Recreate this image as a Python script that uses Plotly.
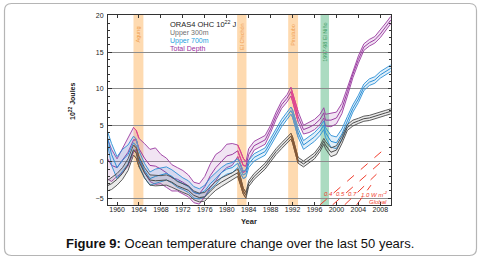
import plotly.graph_objects as go

# ---------------- data ----------------
years = [1958.2, 1959, 1960, 1961, 1962, 1963, 1963.5, 1964, 1965, 1966,
         1967, 1968, 1969, 1970, 1971, 1972, 1973, 1974, 1975, 1976,
         1977, 1978, 1979, 1980, 1981, 1982, 1982.5, 1983, 1983.5, 1984,
         1985, 1986, 1987, 1988, 1989, 1990, 1991, 1991.7, 1992, 1993,
         1994, 1995, 1996, 1997, 1997.7, 1998, 1999, 2000, 2001, 2002,
         2003, 2004, 2005, 2006, 2007, 2008, 2009, 2009.9]

total_mid = [0.5, -0.5, -0.8, 0.2, 1.3, 3.0, 3.0, 1.8, 0.5, -0.5,
             -0.6, -1.0, -1.5, -2.2, -2.4, -2.8, -3.3, -4.2, -4.4, -3.4,
             -1.9, -0.8, 0.0, 0.8, 1.0, 1.5, 0.5, -0.5, -0.6, 1.0,
             2.2, 2.6, 3.0, 4.5, 6.3, 7.8, 8.7, 9.6, 8.9, 6.2,
             4.4, 4.7, 5.1, 5.8, 6.7, 5.7, 5.7, 6.0, 7.3, 9.6,
             12.0, 14.0, 15.7, 16.3, 16.7, 17.5, 18.5, 19.4]
total_spread = [2.8, 2.2, 1.2, 1.7, 1.9, 1.7, 1.3, 1.4, 2.0, 2.2,
                2.5, 2.0, 2.0, 1.8, 1.6, 1.6, 1.5, 1.4, 1.4, 1.4,
                1.6, 1.8, 1.5, 1.6, 1.5, 0.8, 1.0, 1.0, 0.6, 0.8,
                0.6, 0.6, 0.6, 0.5, 0.5, 0.5, 0.5, 0.6, 0.6, 0.7,
                0.6, 0.7, 0.7, 0.7, 0.7, 0.8, 0.9, 0.8, 0.7, 0.6,
                0.5, 0.5, 0.45, 0.45, 0.45, 0.5, 0.5, 0.5]

u700_mid = [3.5, 1.0, -0.8, 0.2, 1.0, 2.6, 2.2, 0.5, -1.2, -2.3,
            -2.0, -1.8, -1.6, -2.0, -2.6, -3.0, -3.4, -4.2, -4.4, -4.0,
            -3.0, -2.3, -1.5, -1.0, -0.8, -0.2, -0.9, -1.8, -1.6, -0.3,
            0.6, 1.0, 1.4, 2.7, 4.0, 5.3, 6.3, 7.0, 6.6, 4.0,
            2.3, 2.8, 3.4, 4.2, 5.0, 4.0, 2.8, 2.6, 3.8, 5.6,
            7.3, 8.6, 10.2, 10.9, 11.2, 11.9, 12.4, 12.8]
u700_spread = [0.8, 1.5, 1.5, 1.5, 1.3, 0.9, 0.9, 1.0, 1.0, 0.9,
               1.0, 0.9, 0.9, 0.9, 0.9, 0.8, 0.8, 0.8, 0.7, 0.8,
               0.8, 0.8, 0.7, 0.7, 0.7, 0.6, 0.6, 0.5, 0.5, 0.5,
               0.5, 0.5, 0.5, 0.5, 0.5, 0.5, 0.5, 0.5, 0.5, 0.6,
               0.6, 0.6, 0.6, 0.6, 0.6, 0.7, 0.8, 0.8, 0.7, 0.6,
               0.5, 0.5, 0.45, 0.45, 0.45, 0.45, 0.45, 0.45]

u300_mid = [-3.3, -3.0, -2.4, -1.6, -0.4, 1.6, 1.2, 0.0, -1.5, -2.5,
            -2.6, -2.6, -2.5, -2.8, -3.3, -3.6, -3.9, -4.6, -4.9, -4.8,
            -4.0, -3.3, -2.8, -2.4, -2.0, -1.5, -2.6, -4.0, -4.6, -3.0,
            -2.0, -1.3, -0.6, 0.4, 1.4, 2.2, 3.0, 3.5, 3.0, 0.2,
            -0.3, 0.3, 0.8, 1.8, 2.8, 2.3, 1.3, 1.6, 3.0, 4.7,
            5.3, 5.6, 5.9, 6.0, 6.2, 6.4, 6.7, 6.9]
u300_spread = [0.7, 0.8, 0.8, 0.8, 0.8, 0.7, 0.7, 0.7, 0.7, 0.7,
               0.7, 0.7, 0.7, 0.7, 0.6, 0.6, 0.6, 0.6, 0.6, 0.6,
               0.6, 0.6, 0.6, 0.5, 0.5, 0.5, 0.5, 0.4, 0.4, 0.4,
               0.4, 0.4, 0.4, 0.4, 0.4, 0.4, 0.4, 0.4, 0.4, 0.4,
               0.4, 0.4, 0.4, 0.4, 0.4, 0.5, 0.6, 0.6, 0.5, 0.4,
               0.4, 0.35, 0.35, 0.35, 0.35, 0.35, 0.35, 0.35]

event_names = ["Agung", "El Chichón", "Pinatubo", "1997-98 El Niño"]
event_start = [1963.0, 1981.9, 1991.2, 1997.1]
event_end = [1964.8, 1983.6, 1993.0, 1998.65]
event_label_y = [17.5, 17.2, 17.4, 16.4]

highlight_periods = [(1963.0, 1964.0), (1982.0, 1983.5), (1991.7, 1993.0)]

fan_start_x = [1997.0, 1999.3, 2001.5, 2003.7]
fan_start_y = [-5.9, -5.9, -5.9, -5.9]
fan_end_x = [2009.3, 2008.2, 2007.3, 2006.3]
fan_end_y = [2.1, 0.0, -1.7, -3.2]
fan_labels = ["0.4", "0.5", "0.7", "1.0 W m<sup>-2</sup>"]
fan_label_x = [1998.6, 2000.7, 2002.9, 2007.0]
fan_label_y = [-4.4, -4.4, -4.4, -4.4]

x_tick_vals = list(range(1960, 2009, 4))
y_tick_vals = [-5, 0, 5, 10, 15, 20]

# ---------------- layout geometry ----------------
W, H = 481, 259
ML, MR, MT, MB = 108, 90, 15, 54
PW, PH = W - ML - MR, H - MT - MB
FONT = "Liberation Sans, Arial, sans-serif"


def px(xp):
    return (xp - ML) / PW


def py(yp):
    return (H - MB - yp) / PH


fig = go.Figure()


def add_group(mid, spread, line_color, fill_color, hl_color):
    hi = [m + s for m, s in zip(mid, spread)]
    lo = [m - s for m, s in zip(mid, spread)]
    fig.add_trace(go.Scatter(x=years, y=hi, mode="lines", line=dict(width=0),
                             showlegend=False, hoverinfo="skip"))
    fig.add_trace(go.Scatter(x=years, y=lo, mode="lines", line=dict(width=0),
                             fill="tonexty", fillcolor=fill_color,
                             showlegend=False, hoverinfo="skip"))
    for arr, w in ((hi, 0.9), (lo, 0.9), (mid, 1.0)):
        fig.add_trace(go.Scatter(x=years, y=arr, mode="lines",
                                 line=dict(color=line_color, width=w),
                                 showlegend=False))
    for (a, b) in highlight_periods:
        idx = [i for i, t in enumerate(years) if a <= t <= b]
        xs = [years[i] for i in idx]
        for arr in (hi, lo, mid):
            fig.add_trace(go.Scatter(x=xs, y=[arr[i] for i in idx], mode="lines",
                                     line=dict(color=hl_color, width=1.0),
                                     showlegend=False))


add_group(total_mid, total_spread, "#9a3aa0", "rgba(170,90,180,0.16)", "#ec3f8a")
add_group(u700_mid, u700_spread, "#2a8fd6", "rgba(40,140,215,0.14)", "#6f98c0")
add_group(u300_mid, u300_spread, "#4a4a4a", "rgba(80,80,80,0.12)", "#8a5a34")

# red dashed reference lines
for x0, y0, x1, y1 in zip(fan_start_x, fan_start_y, fan_end_x, fan_end_y):
    fig.add_trace(go.Scatter(x=[x0, x1], y=[y0, y1], mode="lines",
                             line=dict(color="#f03c2c", width=1, dash="dash"),
                             showlegend=False))

shapes = []
for i, (a, b) in enumerate(zip(event_start, event_end)):
    col = "rgba(126,200,160,0.65)" if i == 3 else "rgba(253,205,150,0.75)"
    shapes.append(dict(type="rect", xref="x", yref="paper", x0=a, x1=b, y0=0, y1=1,
                       fillcolor=col, line=dict(width=0), layer="below"))

# rounded outer border
x0b, x1b, y0b, y1b, r = 4.5, 476.5, 3.5, 255.5, 7
path = (f"M {px(x0b + r)} {py(y0b)} L {px(x1b - r)} {py(y0b)} "
        f"Q {px(x1b)} {py(y0b)} {px(x1b)} {py(y0b + r)} "
        f"L {px(x1b)} {py(y1b - r)} Q {px(x1b)} {py(y1b)} {px(x1b - r)} {py(y1b)} "
        f"L {px(x0b + r)} {py(y1b)} Q {px(x0b)} {py(y1b)} {px(x0b)} {py(y1b - r)} "
        f"L {px(x0b)} {py(y0b + r)} Q {px(x0b)} {py(y0b)} {px(x0b + r)} {py(y0b)} Z")
shapes.append(dict(type="path", xref="paper", yref="paper", path=path,
                   line=dict(color="#b5b5b5", width=1.2), layer="above"))

ann = []
for i, name in enumerate(event_names):
    col = "#3a9a60" if i == 3 else "#f0a050"
    ann.append(dict(x=(event_start[i] + event_end[i]) / 2, y=event_label_y[i],
                    xref="x", yref="y", text=name, textangle=-90, showarrow=False,
                    xanchor="center", yanchor="middle",
                    font=dict(family=FONT, size=5.5, color=col)))

ann.append(dict(x=1969.3, y=18.9, xref="x", yref="y", xanchor="left", yanchor="middle",
                text="ORAS4 OHC 10<sup>22</sup> J", showarrow=False,
                font=dict(family=FONT, size=7.5, color="#222")))
legend_items = [("Upper 300m", "#707070", 17.6), ("Upper 700m", "#1e9fe0", 16.5),
                ("Total Depth", "#9b30a0", 15.5)]
for txt, col, yy in legend_items:
    ann.append(dict(x=1969.3, y=yy, xref="x", yref="y", xanchor="left", yanchor="middle",
                    text=txt, showarrow=False, font=dict(family=FONT, size=7, color=col)))

for lab, lx, ly in zip(fan_labels, fan_label_x, fan_label_y):
    ann.append(dict(x=lx, y=ly, xref="x", yref="y", text=f"<i>{lab}</i>",
                    xanchor="center", yanchor="middle",
                    showarrow=False, font=dict(family=FONT, size=6, color="#f03c2c")))
ann.append(dict(x=2007.6, y=-5.45, xref="x", yref="y", text="<i>Global</i>",
                xanchor="center", yanchor="middle",
                showarrow=False, font=dict(family=FONT, size=6, color="#f03c2c")))

ann.append(dict(x=px(72), y=py(102), xref="paper", yref="paper",
                xanchor="center", yanchor="middle",
                text="<b>10<sup>22</sup> Joules</b>", textangle=-90, showarrow=False,
                font=dict(family=FONT, size=7, color="#222")))
ann.append(dict(x=px(249), y=py(221), xref="paper", yref="paper", text="<b>Year</b>",
                xanchor="center", yanchor="middle",
                showarrow=False, font=dict(family=FONT, size=7.5, color="#222")))
ann.append(dict(x=px(240), y=py(243), xref="paper", yref="paper",
                xanchor="center", yanchor="middle",
                text="<b>Figure 9:</b> Ocean temperature change over the last 50 years.",
                showarrow=False, font=dict(family=FONT, size=13, color="#111")))

fig.update_layout(
    width=W, height=H, margin=dict(l=ML, r=MR, t=MT, b=MB),
    paper_bgcolor="white", plot_bgcolor="white",
    shapes=shapes, annotations=ann, showlegend=False,
    xaxis=dict(range=[1958.35, 2009.95], tickmode="array", tickvals=x_tick_vals,
               ticks="inside", ticklen=3, tickcolor="#333", showline=True,
               linecolor="#333", linewidth=1, mirror="allticks", showgrid=False,
               zeroline=False, ticklabelstandoff=-2,
               tickfont=dict(family=FONT, size=7, color="#222")),
    yaxis=dict(range=[-5.92, 20.1], tickmode="array", tickvals=y_tick_vals,
               ticks="inside", ticklen=3.5, tickcolor="#333", showline=True,
               linecolor="#333", linewidth=1, mirror="allticks", showgrid=True,
               gridcolor="#8c8c8c", gridwidth=0.9, zeroline=False,
               ticklabelstandoff=2,
               minor=dict(dtick=1, tick0=0, ticks="inside", ticklen=2, tickcolor="#333"),
               tickfont=dict(family=FONT, size=7, color="#222")),
)

fig.write_html("out.html", config={"displayModeBar": False},
               post_script="document.body.style.margin='0px';document.body.style.padding='0px';")
